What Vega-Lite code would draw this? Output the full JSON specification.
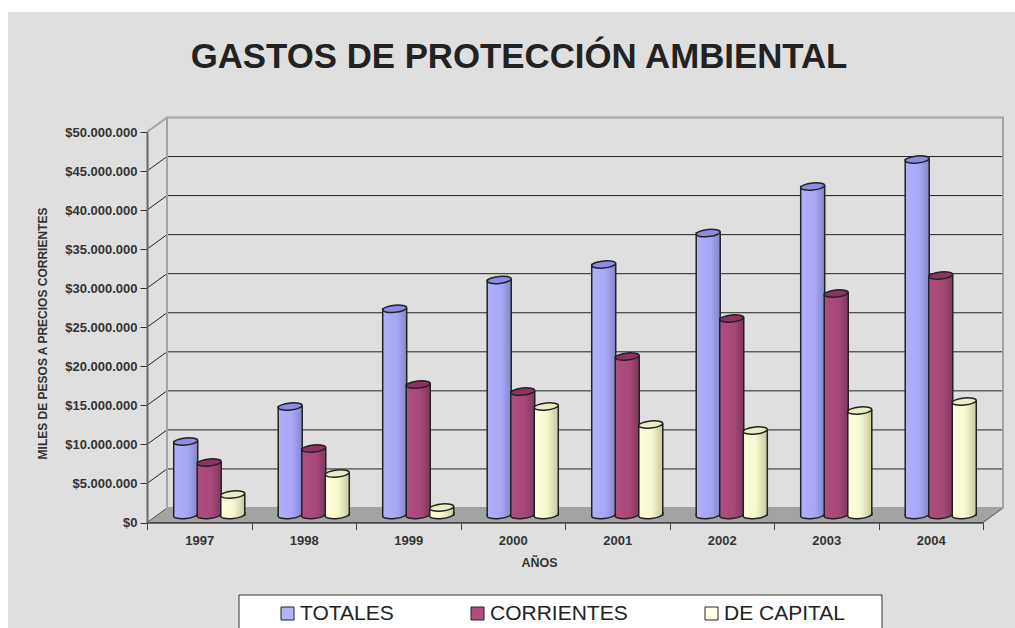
{
"$schema":"https://vega.github.io/schema/vega-lite/v6.json",
"width":836,"height":390.5,
"autosize":{"type":"none"},
"padding":{"left":147,"top":132,"right":32,"bottom":105.5},
"background":"#FFFFFF",
"view":{"stroke":null,"fill":null},
"title":{"text":"GASTOS DE PROTECCIÓN AMBIENTAL","font":"Liberation Sans","fontSize":34.8,"fontWeight":"bold","color":"#222222","anchor":"middle","frame":"group","dx":-46,"offset":-67,"zindex":1},
"datasets":{
"gastos":[
{"anio":1997,"serie":"TOTALES","valor":9410000},{"anio":1997,"serie":"CORRIENTES","valor":6720000},{"anio":1997,"serie":"DE CAPITAL","valor":2620000},
{"anio":1998,"serie":"TOTALES","valor":13890000},{"anio":1998,"serie":"CORRIENTES","valor":8510000},{"anio":1998,"serie":"DE CAPITAL","valor":5310000},
{"anio":1999,"serie":"TOTALES","valor":26400000},{"anio":1999,"serie":"CORRIENTES","valor":16700000},{"anio":1999,"serie":"DE CAPITAL","valor":960000},
{"anio":2000,"serie":"TOTALES","valor":30100000},{"anio":2000,"serie":"CORRIENTES","valor":15800000},{"anio":2000,"serie":"DE CAPITAL","valor":13890000},
{"anio":2001,"serie":"TOTALES","valor":32080000},{"anio":2001,"serie":"CORRIENTES","valor":20290000},{"anio":2001,"serie":"DE CAPITAL","valor":11590000},
{"anio":2002,"serie":"TOTALES","valor":36100000},{"anio":2002,"serie":"CORRIENTES","valor":25160000},{"anio":2002,"serie":"DE CAPITAL","valor":10820000},
{"anio":2003,"serie":"TOTALES","valor":42060000},{"anio":2003,"serie":"CORRIENTES","valor":28360000},{"anio":2003,"serie":"DE CAPITAL","valor":13380000},
{"anio":2004,"serie":"TOTALES","valor":45520000},{"anio":2004,"serie":"CORRIENTES","valor":30670000},{"anio":2004,"serie":"DE CAPITAL","valor":14530000}
],
"ticks":[{"v":5000000},{"v":10000000},{"v":15000000},{"v":20000000},{"v":25000000},{"v":30000000},{"v":35000000},{"v":40000000},{"v":45000000}]
},
"encoding":{
"x":{"field":"anio","type":"ordinal","scale":{"domain":[1997,1998,1999,2000,2001,2002,2003,2004],"paddingInner":0,"paddingOuter":0},
"axis":{"zindex":1,"title":"AÑOS","titleFont":"Liberation Sans","titleFontSize":12.5,"titleFontWeight":"bold","titleColor":"#333333","titleX":392,"titleY":44,"titleBaseline":"alphabetic",
"labelFont":"Liberation Sans","labelFontSize":13,"labelFontWeight":"bold","labelColor":"#333333","labelAngle":0,"labelPadding":5,"tickBand":"extent","tickSize":7,"tickColor":"#444444","domainColor":"#444444","domainWidth":1.5,"grid":false}},
"xOffset":{"field":"serie","type":"nominal","scale":{"domain":["TOTALES","CORRIENTES","DE CAPITAL"],"paddingInner":0,"paddingOuter":0.72,"range":[10,114.5]}},
"y":{"field":"valor","type":"quantitative","scale":{"domain":[0,50000000],"nice":false},
"axis":{"zindex":1,"title":"MILES DE PESOS A PRECIOS CORRIENTES","titleFont":"Liberation Sans","titleFontSize":12,"titleFontWeight":"bold","titleColor":"#333333","titleX":-98,"titleY":201,"titleAngle":-90,
"values":[0,5000000,10000000,15000000,20000000,25000000,30000000,35000000,40000000,45000000,50000000],
"labelExpr":"'$' + replace(format(datum.value, ',d'), /,/g, '.')",
"labelFont":"Liberation Sans","labelFontSize":13,"labelFontWeight":"bold","labelColor":"#333333","labelPadding":3,"tickSize":7,"tickColor":"#333333","domainColor":"#666666","domainWidth":2,"grid":false}}
},
"layer":[
{"data":{"values":[{"v":50000000}]},"mark":{"type":"point","filled":true,"opacity":1,"size":4,"fill":"#DFDFDF","stroke":"#DFDFDF","shape":"M-138,-119H868V496H-138Z"},
"encoding":{"x":{"datum":1997,"bandPosition":0},"xOffset":{"value":0},"y":{"field":"v","type":"quantitative"}}},
{"data":{"values":[{"v":0}]},"mark":{"type":"point","filled":true,"opacity":1,"size":4,"fill":"#A3A3A3","stroke":"#555555","strokeWidth":1,"shape":"M0,0H836L856,-14.5H20Z"},
"encoding":{"x":{"datum":1997,"bandPosition":0},"xOffset":{"value":0},"y":{"field":"v","type":"quantitative"}}},
{"data":{"name":"ticks"},"mark":{"type":"point","filled":false,"opacity":1,"size":4,"stroke":"#222222","strokeWidth":1,"shape":"M0,0L20,-14.5H856"},
"encoding":{"x":{"datum":1997,"bandPosition":0},"xOffset":{"value":0},"y":{"field":"v","type":"quantitative"}}},
{"data":{"values":[{"v":50000000}]},"mark":{"type":"point","filled":false,"opacity":1,"size":4,"stroke":"#A3A3A3","strokeWidth":2,"shape":"M0,0L20,-14.5H856V376H20V-14.5"},
"encoding":{"x":{"datum":1997,"bandPosition":0},"xOffset":{"value":0},"y":{"field":"v","type":"quantitative"}}},
{"data":{"name":"gastos"},"transform":[{"filter":"datum.serie=='TOTALES'"}],"mark":{"type":"bar","width":24,"stroke":"#222222","strokeWidth":1.5,"yOffset":-7.5,"y2Offset":-7.5,
"fill":{"gradient":"linear","x1":0,"x2":1,"y1":0,"y2":0,"stops":[{"offset":0,"color":"#B0B0FF"},{"offset":0.6,"color":"#A6A6F5"},{"offset":1,"color":"#8686C8"}]}}},
{"data":{"name":"gastos"},"transform":[{"filter":"datum.serie=='TOTALES'"}],"mark":{"type":"point","filled":true,"opacity":1,"size":4,"stroke":"#222222","strokeWidth":1.5,"yOffset":-7.5,"shape":"M-12,-1L-12,1.2A12,3.5,-6,0,0,12,-1.2L12,-3",
"fill":{"gradient":"linear","x1":0,"x2":1,"y1":0,"y2":0,"stops":[{"offset":0,"color":"#B0B0FF"},{"offset":0.6,"color":"#A6A6F5"},{"offset":1,"color":"#8686C8"}]}},
"encoding":{"y":{"datum":0}}},
{"data":{"name":"gastos"},"transform":[{"filter":"datum.serie=='TOTALES'"}],"mark":{"type":"point","filled":true,"opacity":1,"size":4,"stroke":"#222222","strokeWidth":1.5,"yOffset":-7.5,"fill":"#8C8CE6","shape":"M-12,1.2A12,3.5,-6,1,0,12,-1.2A12,3.5,-6,1,0,-12,1.2Z"}},
{"data":{"name":"gastos"},"transform":[{"filter":"datum.serie=='CORRIENTES'"}],"mark":{"type":"bar","width":24,"stroke":"#222222","strokeWidth":1.5,"yOffset":-7.5,"y2Offset":-7.5,
"fill":{"gradient":"linear","x1":0,"x2":1,"y1":0,"y2":0,"stops":[{"offset":0,"color":"#B04C80"},{"offset":0.6,"color":"#A64878"},{"offset":1,"color":"#7C3A5C"}]}}},
{"data":{"name":"gastos"},"transform":[{"filter":"datum.serie=='CORRIENTES'"}],"mark":{"type":"point","filled":true,"opacity":1,"size":4,"stroke":"#222222","strokeWidth":1.5,"yOffset":-7.5,"shape":"M-12,-1L-12,1.2A12,3.5,-6,0,0,12,-1.2L12,-3",
"fill":{"gradient":"linear","x1":0,"x2":1,"y1":0,"y2":0,"stops":[{"offset":0,"color":"#B04C80"},{"offset":0.6,"color":"#A64878"},{"offset":1,"color":"#7C3A5C"}]}},
"encoding":{"y":{"datum":0}}},
{"data":{"name":"gastos"},"transform":[{"filter":"datum.serie=='CORRIENTES'"}],"mark":{"type":"point","filled":true,"opacity":1,"size":4,"stroke":"#222222","strokeWidth":1.5,"yOffset":-7.5,"fill":"#8E3264","shape":"M-12,1.2A12,3.5,-6,1,0,12,-1.2A12,3.5,-6,1,0,-12,1.2Z"}},
{"data":{"name":"gastos"},"transform":[{"filter":"datum.serie=='DE CAPITAL'"}],"mark":{"type":"bar","width":24,"stroke":"#222222","strokeWidth":1.5,"yOffset":-7.5,"y2Offset":-7.5,
"fill":{"gradient":"linear","x1":0,"x2":1,"y1":0,"y2":0,"stops":[{"offset":0,"color":"#FFFFDC"},{"offset":0.55,"color":"#F6F6CE"},{"offset":1,"color":"#C8C8A0"}]}}},
{"data":{"name":"gastos"},"transform":[{"filter":"datum.serie=='DE CAPITAL'"}],"mark":{"type":"point","filled":true,"opacity":1,"size":4,"stroke":"#222222","strokeWidth":1.5,"yOffset":-7.5,"shape":"M-12,-1L-12,1.2A12,3.5,-6,0,0,12,-1.2L12,-3",
"fill":{"gradient":"linear","x1":0,"x2":1,"y1":0,"y2":0,"stops":[{"offset":0,"color":"#FFFFDC"},{"offset":0.55,"color":"#F6F6CE"},{"offset":1,"color":"#C8C8A0"}]}},
"encoding":{"y":{"datum":0}}},
{"data":{"name":"gastos"},"transform":[{"filter":"datum.serie=='DE CAPITAL'"}],"mark":{"type":"point","filled":true,"opacity":1,"size":4,"stroke":"#222222","strokeWidth":1.5,"yOffset":-7.5,"fill":"#EBEBC4","shape":"M-12,1.2A12,3.5,-6,1,0,12,-1.2A12,3.5,-6,1,0,-12,1.2Z"}},
{"data":{"values":[{"v":50000000}]},"mark":{"type":"point","filled":true,"opacity":1,"size":4,"fill":"#FFFFFF","stroke":"#333333","strokeWidth":1,"shape":"M92,463H735V520H92Z"},
"encoding":{"x":{"datum":1997,"bandPosition":0},"xOffset":{"value":0},"y":{"field":"v","type":"quantitative"}}},
{"data":{"name":"gastos"},"mark":{"type":"point","filled":true,"opacity":0,"size":1},
"encoding":{"fill":{"field":"serie","type":"nominal","scale":{"domain":["TOTALES","CORRIENTES","DE CAPITAL"],"range":["#B3B3FF","#B34D80","#FFFFE6"]},
"legend":{"orient":"none","legendX":130,"legendY":471,"direction":"horizontal","columns":3,"title":null,"padding":0,"symbolType":"square","symbolSize":169,"symbolOpacity":1,"symbolStrokeColor":"#222222","symbolStrokeWidth":1,"labelFont":"Liberation Sans","labelFontSize":21,"labelColor":"#222222","labelOffset":2,"labelLimit":300,"columnPadding":73,"gridAlign":"none"}}}}
]
}
